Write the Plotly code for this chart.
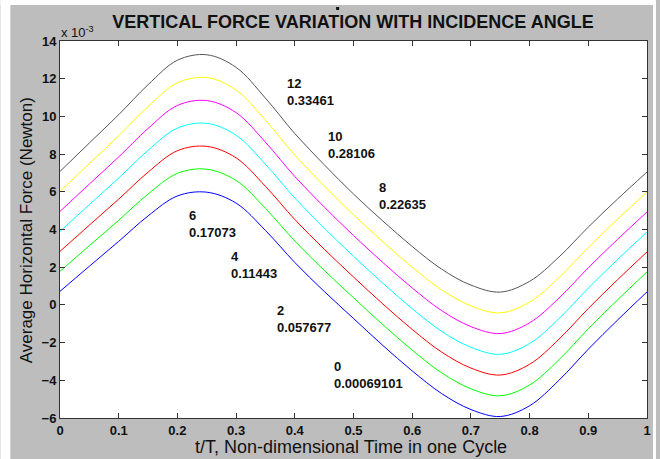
import plotly.graph_objects as go

# ---- data (force values in units of 1e-3 N) ----
t = [0.0, 0.05, 0.1, 0.15, 0.2, 0.25, 0.3, 0.35, 0.4, 0.45, 0.5,
     0.55, 0.6, 0.65, 0.7, 0.75, 0.8, 0.85, 0.9, 0.95, 1.0]

angle_0 = [0.72, 2.05, 3.37, 4.72, 5.78, 5.98, 5.40, 3.95, 2.25, 0.72, -0.72,
           -2.15, -3.50, -4.70, -5.55, -5.92, -5.35, -4.00, -2.35, -0.80, 0.69]
angle_2 = [1.78, 3.14, 4.49, 5.88, 6.98, 7.20, 6.60, 5.12, 3.39, 1.84, 0.38,
           -1.05, -2.40, -3.60, -4.45, -4.82, -4.25, -2.91, -1.27, 0.27, 1.75]
angle_4 = [2.84, 4.23, 5.61, 7.04, 8.18, 8.41, 7.80, 6.29, 4.53, 2.96, 1.48,
           0.05, -1.30, -2.50, -3.35, -3.72, -3.15, -1.82, -0.19, 1.34, 2.81]
angle_6 = [3.90, 5.32, 6.73, 8.20, 9.38, 9.63, 9.00, 7.46, 5.67, 4.08, 2.58,
           1.15, -0.20, -1.40, -2.25, -2.62, -2.05, -0.73, 0.89, 2.41, 3.87]
angle_8 = [4.96, 6.41, 7.85, 9.36, 10.58, 10.84, 10.20, 8.63, 6.81, 5.20, 3.68,
           2.25, 0.90, -0.30, -1.15, -1.52, -0.95, 0.36, 1.97, 3.48, 4.93]
angle_10 = [6.02, 7.50, 8.97, 10.52, 11.78, 12.06, 11.40, 9.80, 7.95, 6.32, 4.78,
            3.35, 2.00, 0.80, -0.05, -0.42, 0.15, 1.45, 3.05, 4.55, 5.99]
angle_12 = [7.08, 8.59, 10.09, 11.68, 12.98, 13.27, 12.60, 10.97, 9.09, 7.44, 5.88,
            4.45, 3.10, 1.90, 1.05, 0.68, 1.25, 2.54, 4.13, 5.62, 7.05]

angles = ["0", "2", "4", "6", "8", "10", "12"]
mean_labels = ["0.00069101", "0.057677", "0.11443", "0.17073",
               "0.22635", "0.28106", "0.33461"]
series = [angle_0, angle_2, angle_4, angle_6, angle_8, angle_10, angle_12]

# ---- styles / positions ----
colors = ["#0000ff", "#00ff00", "#ff0000", "#00ffff", "#ff00ff", "#ffff00", "#555555"]
label_pos = [(0.4636, -3.72), (0.3667, -0.74), (0.2876, 2.11), (0.216, 4.27),
             (0.540, 5.80), (0.4526, 8.50), (0.384, 11.32)]

FONT = "Liberation Sans, Arial, sans-serif"

fig = go.Figure()
for ys, c, a in zip(series, colors, angles):
    fig.add_trace(go.Scatter(x=t, y=ys, mode="lines", name=a,
                             line=dict(color=c, width=1, shape="spline", smoothing=1.0)))

annotations = []
for (px, py), a, m in zip(label_pos, angles, mean_labels):
    annotations.append(dict(x=px, y=py, xref="x", yref="y", text=f"<b>{a}<br>{m}</b>",
                            showarrow=False, xanchor="left", yanchor="middle",
                            align="left", font=dict(family=FONT, size=13, color="#111")))

W, H = 660, 459
L, R, T, B = 60, 9, 41, 41
pw, ph = W - L - R, H - T - B

def px2x(p):
    return (p - L) / pw

def py2y(p):
    return (H - B - p) / ph

annotations += [
    dict(x=px2x(59), y=py2y(32), xref="paper", yref="paper", text="x 10<sup>-3</sup>",
         showarrow=False, xanchor="left", yanchor="middle",
         font=dict(family=FONT, size=13, color="#111")),
    dict(x=px2x(353), y=py2y(447), xref="paper", yref="paper",
         text="t/T, Non-dimensional Time in one Cycle",
         showarrow=False, xanchor="center", yanchor="middle",
         font=dict(family=FONT, size=18, color="#111")),
    dict(x=px2x(26), y=py2y(230), xref="paper", yref="paper",
         text="Average Horizontal Force (Newton)", textangle=-90,
         showarrow=False, xanchor="center", yanchor="middle",
         font=dict(family=FONT, size=17, color="#111")),
]

shapes = [
    dict(type="rect", xref="paper", yref="paper", x0=px2x(0), x1=px2x(10),
         y0=py2y(H), y1=py2y(0), fillcolor="white", line=dict(width=0), layer="above"),
    dict(type="rect", xref="paper", yref="paper", x0=px2x(0), x1=px2x(W),
         y0=py2y(5), y1=py2y(0), fillcolor="white", line=dict(width=0), layer="above"),
    dict(type="rect", xref="paper", yref="paper", x0=px2x(657), x1=px2x(W),
         y0=py2y(H), y1=py2y(0), fillcolor="white", line=dict(width=0), layer="above"),
    dict(type="rect", xref="paper", yref="paper", x0=px2x(338), x1=px2x(341),
         y0=py2y(10), y1=py2y(7), fillcolor="#111", line=dict(width=0), layer="above"),
]

fig.update_layout(
    width=W, height=H,
    margin=dict(l=L, r=R, t=T, b=B, pad=0),
    paper_bgcolor="#bdbdbd", plot_bgcolor="white",
    showlegend=False,
    title=dict(text="<b>VERTICAL FORCE VARIATION WITH INCIDENCE ANGLE</b>",
               x=353 / W, xanchor="center",
               y=1 - 21.5 / H, yanchor="middle", yref="container",
               font=dict(family=FONT, size=18, color="#111")),
    annotations=annotations, shapes=shapes,
    font=dict(family=FONT),
)
fig.update_xaxes(range=[0, 1], dtick=0.1, tick0=0, showgrid=False, zeroline=False,
                 showline=True, mirror="ticks", linecolor="#333", linewidth=1,
                 ticks="inside", ticklen=5, tickcolor="#333",
                 tickfont=dict(family=FONT, size=13, color="#111"),
                 tickprefix="<b>", ticksuffix="</b>")
fig.update_yaxes(range=[-6, 14], dtick=2, tick0=0, showgrid=False, zeroline=False,
                 showline=True, mirror="ticks", linecolor="#333", linewidth=1,
                 ticks="inside", ticklen=5, tickcolor="#333",
                 tickfont=dict(family=FONT, size=13, color="#111"),
                 tickprefix="<b>", ticksuffix="</b>")

fig.write_html("out.html")
